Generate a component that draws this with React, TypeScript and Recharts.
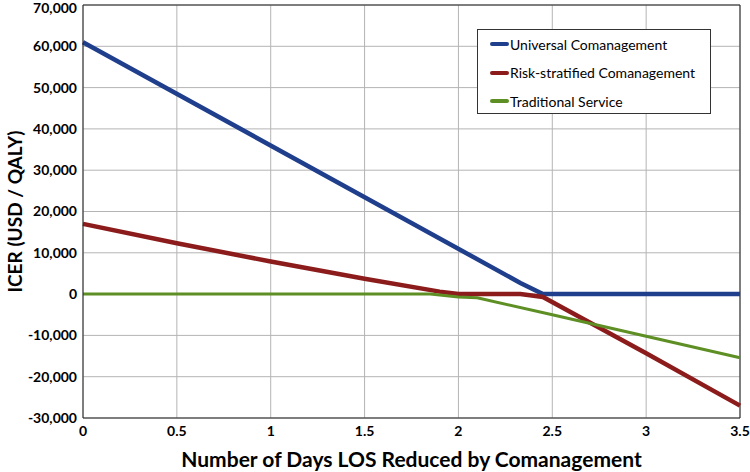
import {
  CartesianGrid,
  Line,
  LineChart,
  ReferenceLine,
  XAxis,
  YAxis,
} from "recharts";

const universalDays = [0, 2.33, 2.45, 3.5];
const universalIcer = [61000, 2700, 0, 0];

const riskDays = [0, 0.5, 1, 1.5, 1.9, 2.0, 2.33, 2.45, 3, 3.5];
const riskIcer = [17000, 12300, 7900, 3700, 600, 0, 0, -700, -14300, -27000];

const traditionalDays = [0, 1.85, 2.0, 2.1, 2.5, 3, 3.5];
const traditionalIcer = [0, 0, -700, -900, -5000, -10200, -15400];

const xTicks = [0, 0.5, 1, 1.5, 2, 2.5, 3, 3.5];
const yTicks = [-30000, -20000, -10000, 0, 10000, 20000, 30000, 40000, 50000, 60000, 70000];

const SERIES = [
  { name: "Universal Comanagement", color: "#1f3e8c", width: 4.5 },
  { name: "Risk-stratified Comanagement", color: "#8c1c1c", width: 4.5 },
  { name: "Traditional Service", color: "#5e8f24", width: 3 },
];

const toPoints = (days: number[], icer: number[]) =>
  days.map((d, i) => ({ x: d, y: icer[i] }));

const seriesData = [
  toPoints(universalDays, universalIcer),
  toPoints(riskDays, riskIcer),
  toPoints(traditionalDays, traditionalIcer),
];

const FONT = "Lato, 'Open Sans', sans-serif";

const formatY = (v: number) => v.toLocaleString("en-US");
const formatX = (v: number) => String(v);

// legend drawn as an overlay box inside the plot, like the original
const LegendBox = () => (
  <div
    style={{
      position: "absolute",
      left: 477,
      top: 29,
      border: "1px solid #333",
      background: "white",
      width: 234,
      height: 85,
      boxSizing: "border-box",
      padding: "0 0 0 12px",
      fontFamily: FONT,
      fontSize: 14,
      color: "#000",
    }}
  >
    {SERIES.map((s, i) => (
      <div
        key={s.name}
        style={{
          position: "absolute",
          left: 12,
          top: 4 + i * 28.5,
          display: "flex",
          alignItems: "center",
          height: 20,
          whiteSpace: "nowrap",
        }}
      >
        <span
          style={{
            display: "inline-block",
            width: 19,
            height: 4,
            borderRadius: 2,
            background: s.color,
            marginRight: 1,
          }}
        />
        {s.name}
      </div>
    ))}
  </div>
);

const App = () => {
  return (
    <div style={{ position: "absolute", left: 0, top: 0, background: "white" }}>
      <LineChart
        width={750}
        height={472}
        margin={{ top: 5, right: 10, left: 33, bottom: 4 }}
      >
        <CartesianGrid stroke="#b4b4b4" strokeWidth={1} />
        <XAxis
          dataKey="x"
          type="number"
          domain={[0, 3.5]}
          ticks={xTicks}
          tickFormatter={formatX}
          tickLine={false}
          axisLine={{ stroke: "#222", strokeWidth: 1 }}
          tick={{ fill: "#000", fontSize: 14, fontWeight: 700, fontFamily: FONT }}
          tickMargin={2}
          height={50}
          label={{
            value: "Number of Days LOS Reduced by Comanagement",
            position: "insideBottom",
            offset: 1,
            fill: "#000",
            fontSize: 21,
            fontWeight: 700,
            fontFamily: FONT,
          }}
        />
        <YAxis
          type="number"
          domain={[-30000, 70000]}
          ticks={yTicks}
          tickFormatter={formatY}
          tickLine={false}
          axisLine={{ stroke: "#222", strokeWidth: 1 }}
          tick={{ fill: "#000", fontSize: 14, fontWeight: 700, fontFamily: FONT }}
          tickMargin={0}
          width={50}
          label={{
            value: "ICER (USD / QALY)",
            angle: -90,
            position: "insideLeft",
            offset: -18,
            fill: "#000",
            fontSize: 19,
            fontWeight: 700,
            fontFamily: FONT,
            style: { textAnchor: "middle" },
          }}
        />
        <ReferenceLine y={70000} stroke="#222" strokeWidth={1} />
        <ReferenceLine x={3.5} stroke="#222" strokeWidth={1} />
        {SERIES.map((s, i) => (
          <Line
            key={s.name}
            name={s.name}
            data={seriesData[i]}
            dataKey="y"
            type="linear"
            stroke={s.color}
            strokeWidth={s.width}
            dot={false}
            activeDot={false}
            isAnimationActive={false}
          />
        ))}
      </LineChart>
      <LegendBox />
    </div>
  );
};

export default App;
